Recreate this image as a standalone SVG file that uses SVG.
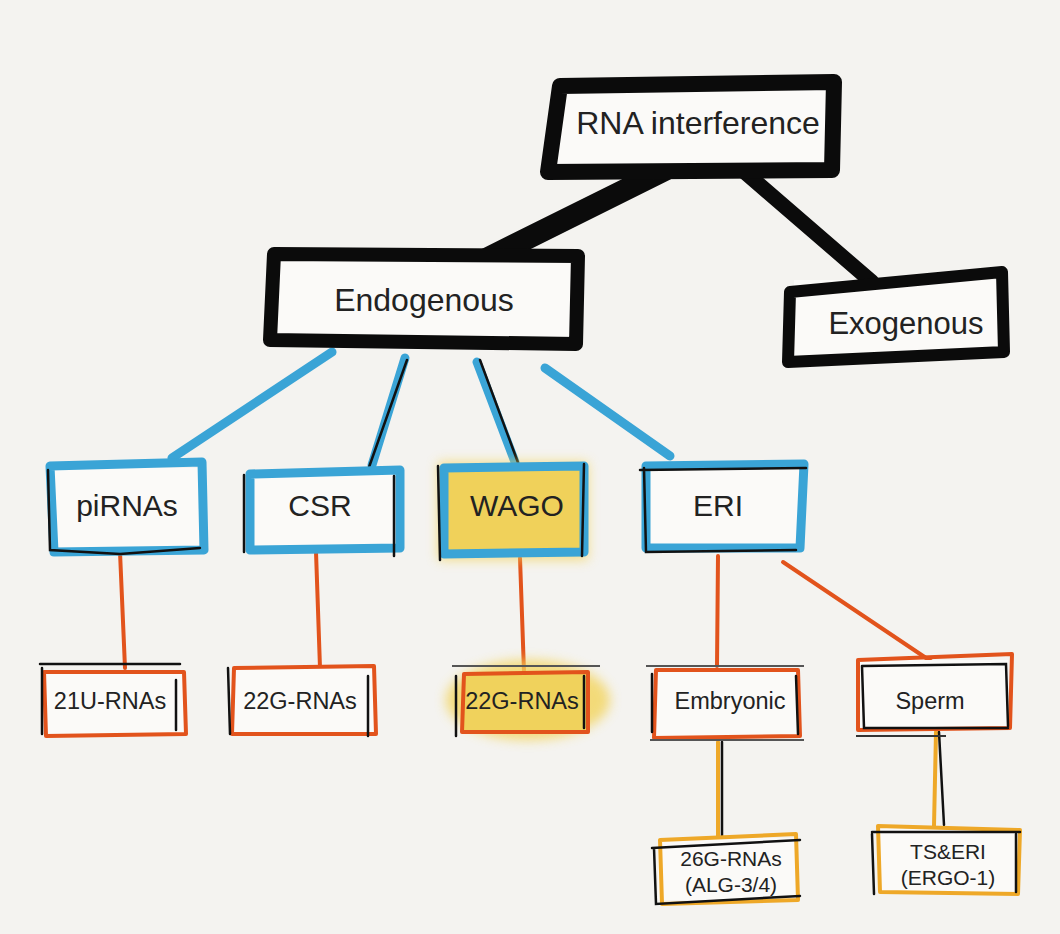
<svg xmlns="http://www.w3.org/2000/svg" width="1060" height="934" viewBox="0 0 1060 934">
<defs>
<style>
.bg{fill:#f4f3f0}
.box{fill:#fbfaf8}
.blk{fill:none;stroke:#0b0b0b;stroke-linejoin:round;stroke-linecap:round}
.thin{fill:none;stroke:#111;stroke-width:2.5;stroke-linecap:round}
.blue{fill:none;stroke:#3aa4d6;stroke-width:9;stroke-linejoin:round;stroke-linecap:round}
.orange{fill:none;stroke:#e2531c;stroke-width:4;stroke-linejoin:round;stroke-linecap:round}
.yel{fill:none;stroke:#eea828;stroke-width:4;stroke-linejoin:round;stroke-linecap:round}
.t{font-family:"Liberation Sans","Helvetica",Arial,sans-serif;fill:#222;text-anchor:middle}
</style>
<filter id="glow" x="-30%" y="-50%" width="160%" height="200%"><feGaussianBlur stdDeviation="6"/></filter>
</defs>
<rect class="bg" x="0" y="0" width="1060" height="934"/>

<g id="connectors">
<line x1="665" y1="170" x2="480" y2="262" stroke="#0b0b0b" stroke-width="22" stroke-linecap="round"/>
<line x1="740" y1="168" x2="872" y2="282" stroke="#0b0b0b" stroke-width="15" stroke-linecap="round"/>
<line class="blue" x1="332" y1="352" x2="172" y2="458"/>
<line class="blue" x1="405" y1="358" x2="372" y2="465"/>
<line class="blue" x1="477" y1="362" x2="515" y2="462"/>
<line class="blue" x1="545" y1="368" x2="670" y2="456"/>
<line class="thin" x1="407" y1="360" x2="368" y2="470"/>
<line class="thin" x1="480" y1="360" x2="520" y2="468"/>
<line class="orange" x1="120" y1="552" x2="125" y2="668"/>
<line class="orange" x1="316" y1="552" x2="320" y2="668"/>
<line class="orange" x1="520" y1="558" x2="524" y2="672"/>
<line class="orange" x1="718" y1="556" x2="717" y2="666"/>
<line class="orange" x1="783" y1="562" x2="932" y2="662"/>
<line class="yel" x1="718" y1="742" x2="718" y2="838"/>
<line class="yel" x1="936" y1="732" x2="934" y2="826"/>
<line class="thin" x1="722" y1="742" x2="722" y2="836"/>
<line class="thin" x1="939" y1="732" x2="944" y2="825"/>
</g>

<g id="rna">
<rect class="box" x="556" y="82" width="276" height="86"/>
<path class="blk" stroke-width="16" d="M560 86 L834 82 L832 170 L548 172 Z"/>
<text class="t" x="698" y="134" font-size="32">RNA interference</text>
</g>

<g id="endogenous">
<rect class="box" x="276" y="256" width="298" height="84"/>
<path class="blk" stroke-width="14" d="M274 254 L578 256 L576 344 L270 340 Z"/>
<text class="t" x="424" y="311" font-size="32">Endogenous</text>
</g>

<g id="exogenous">
<rect class="box" x="794" y="280" width="206" height="76"/>
<path class="blk" stroke-width="12" d="M790 292 L1002 272 L1004 352 L788 362 Z"/>
<text class="t" x="906" y="334" font-size="31">Exogenous</text>
</g>

<g id="pirnas">
<rect class="box" x="52" y="468" width="150" height="82"/>
<path class="blue" d="M50 466 L202 462 L204 550 L54 552 Z"/>
<path class="thin" d="M48 470 L50 550 L120 554 L200 548"/>
<text class="t" x="127" y="516" font-size="30">piRNAs</text>
</g>

<g id="csr">
<rect class="box" x="248" y="472" width="150" height="76"/>
<path class="blue" d="M250 474 L400 470 L400 548 L250 550 Z"/>
<line class="thin" x1="244" y1="475" x2="244" y2="552"/>
<line class="thin" x1="394" y1="476" x2="394" y2="556"/>
<text class="t" x="320" y="516" font-size="30">CSR</text>
</g>

<g id="wago">
<rect x="438" y="462" width="150" height="98" fill="#f3d45c" filter="url(#glow)" opacity="0.7"/>
<rect x="444" y="468" width="138" height="84" fill="#f0d15a"/>
<path class="blue" stroke="#3c9fa8" d="M444 468 L584 466 L584 552 L444 554 Z"/>
<line class="thin" x1="438" y1="466" x2="440" y2="560"/>
<line class="thin" x1="584" y1="464" x2="582" y2="556"/>
<text class="t" x="517" y="516" font-size="30">WAGO</text>
</g>

<g id="eri">
<rect class="box" x="644" y="466" width="158" height="82"/>
<path class="blue" d="M646 466 L804 464 L800 548 L646 548 Z"/>
<path class="thin" d="M640 470 L806 468 M644 468 L646 552 L796 550"/>
<text class="t" x="718" y="516" font-size="30">ERI</text>
</g>

<g id="u21">
<rect class="box" x="46" y="670" width="140" height="64"/>
<path class="orange" d="M44 672 L184 672 L186 734 L46 736 Z"/>
<line class="thin" x1="40" y1="664" x2="180" y2="664"/>
<line class="thin" x1="42" y1="668" x2="42" y2="734"/>
<line class="thin" x1="176" y1="680" x2="176" y2="730"/>
<text class="t" x="110" y="709" font-size="23.5">21U-RNAs</text>
</g>

<g id="g22a">
<rect class="box" x="234" y="668" width="140" height="66"/>
<path class="orange" d="M234 668 L374 666 L376 734 L232 734 Z"/>
<line class="thin" x1="228" y1="668" x2="230" y2="734"/>
<line class="thin" x1="368" y1="676" x2="368" y2="736"/>
<text class="t" x="300" y="709" font-size="23.5">22G-RNAs</text>
</g>

<g id="g22b">
<ellipse cx="528" cy="700" rx="82" ry="40" fill="#f3d45c" filter="url(#glow)" opacity="0.8"/>
<rect x="464" y="672" width="124" height="60" fill="#f0d25c"/>
<path class="orange" d="M464 674 L588 672 L588 732 L462 732 Z"/>
<line class="thin" x1="456" y1="676" x2="456" y2="736"/>
<line class="thin" x1="584" y1="676" x2="584" y2="728"/>
<line x1="452" y1="666" x2="600" y2="666" stroke="#555" stroke-width="2"/>
<text class="t" x="522" y="709" font-size="23.5">22G-RNAs</text>
</g>

<g id="embryonic">
<rect class="box" x="654" y="668" width="144" height="70"/>
<path class="orange" d="M656 670 L798 670 L800 736 L654 738 Z"/>
<line x1="646" y1="666" x2="804" y2="666" stroke="#555" stroke-width="2"/>
<line class="thin" x1="652" y1="674" x2="652" y2="732"/>
<line class="thin" x1="796" y1="676" x2="798" y2="734"/>
<line x1="650" y1="740" x2="804" y2="740" stroke="#555" stroke-width="2"/>
<text class="t" x="730" y="709" font-size="23.5">Embryonic</text>
</g>

<g id="sperm">
<rect class="box" x="860" y="660" width="148" height="68"/>
<path class="orange" d="M858 660 L1012 654 L1010 728 L858 730 Z"/>
<path class="thin" d="M862 666 L1006 664 L1008 726 M862 666 L864 728 L1008 728"/>
<line x1="856" y1="736" x2="946" y2="736" stroke="#333" stroke-width="2"/>
<text class="t" x="930" y="709" font-size="23.5">Sperm</text>
</g>

<g id="g26">
<rect class="box" x="658" y="838" width="140" height="62"/>
<path class="yel" d="M660 840 L796 834 L798 900 L662 904 Z"/>
<path class="thin" d="M652 848 L800 840 M654 848 L656 904 L800 896"/>
<text class="t" x="731" y="866" font-size="21">26G-RNAs</text>
<text class="t" x="731" y="892" font-size="21">(ALG-3/4)</text>
</g>

<g id="tseri">
<rect class="box" x="878" y="828" width="140" height="64"/>
<path class="yel" d="M878 826 L1020 830 L1018 894 L880 892 Z"/>
<path class="thin" d="M872 832 L1020 832 M872 834 L874 894 M1016 834 L1016 892"/>
<text class="t" x="948" y="859" font-size="21">TS&amp;ERI</text>
<text class="t" x="948" y="885" font-size="21">(ERGO-1)</text>
</g>
</svg>
